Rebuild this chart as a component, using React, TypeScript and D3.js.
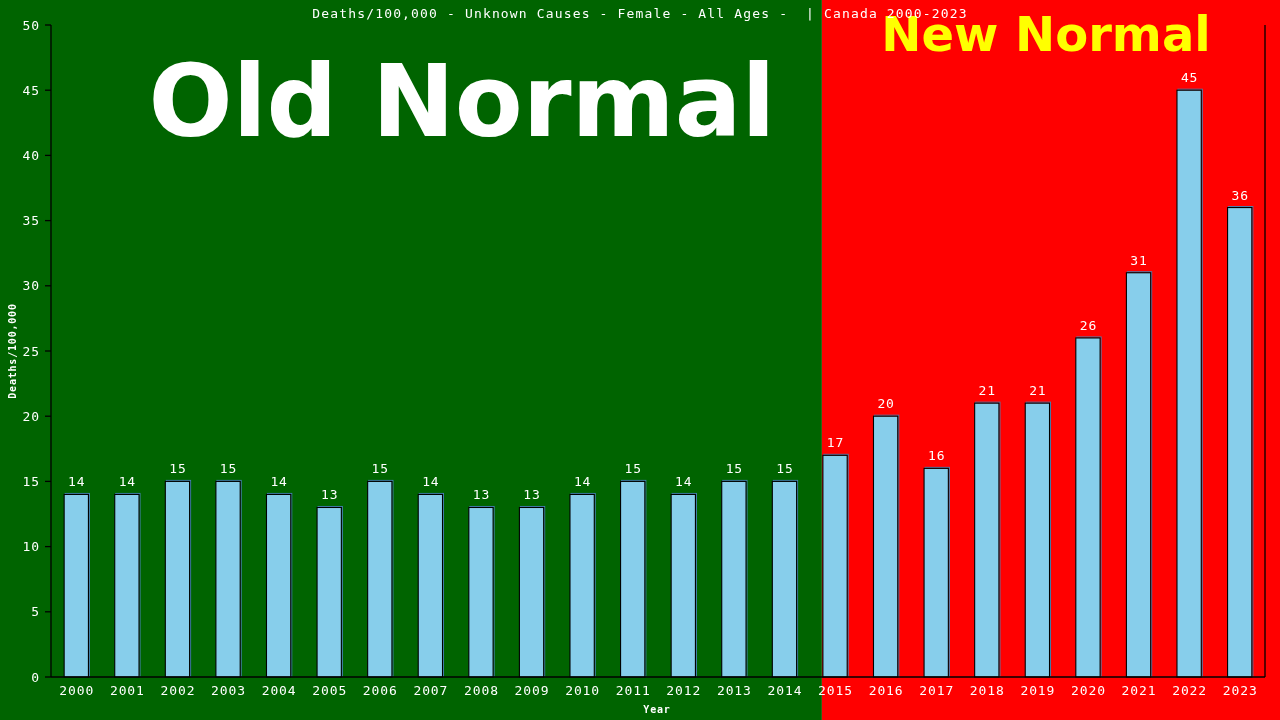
import { scaleBand, scaleLinear } from "d3";

const years = [
  "2000", "2001", "2002", "2003", "2004", "2005", "2006", "2007", "2008", "2009", "2010", "2011",
  "2012", "2013", "2014", "2015", "2016", "2017", "2018", "2019", "2020", "2021", "2022", "2023",
];
const deaths = [14, 14, 15, 15, 14, 13, 15, 14, 13, 13, 14, 15, 14, 15, 15, 17, 20, 16, 21, 21, 26, 31, 45, 36];
const yTicks = [0, 5, 10, 15, 20, 25, 30, 35, 40, 45, 50];
const newNormalFrom = "2015";

const W = 1280;
const H = 720;
const left = 51;
const right = 1265;
const top = 25;
const bottom = 677;

const mono = "'DejaVu Sans Mono', monospace";

export default function App() {
  const x = scaleBand<string>().domain(years).range([left, right]).paddingInner(0.52).paddingOuter(0.26);
  const y = scaleLinear().domain([0, 50]).range([bottom, top]);
  const bw = x.bandwidth();
  const splitX = x(newNormalFrom)! - 1;

  return (
    <div style={{ position: "fixed", left: 0, top: 0 }}>
      <svg width={W} height={H} style={{ display: "block" }}>
        {/* backgrounds */}
        <rect x={0} y={0} width={splitX} height={H} fill="#006400" />
        <rect x={splitX} y={0} width={W - splitX} height={H} fill="#ff0000" />

        <text x={462} y={136} textAnchor="middle" fill="#fff" fontFamily="'DejaVu Sans', sans-serif" fontWeight="bold" fontSize={99}>
          Old Normal
        </text>
        <text x={1046} y={51} textAnchor="middle" fill="#ffff00" fontFamily="'DejaVu Sans', sans-serif" fontWeight="bold" fontSize={48}>
          New Normal
        </text>

        {/* title */}
        <text x={640} y={18} textAnchor="middle" fill="#fff" fontFamily={mono} fontSize={13} letterSpacing={1.15} style={{ whiteSpace: "pre" }}>
          {"Deaths/100,000 - Unknown Causes - Female - All Ages -  | Canada 2000-2023"}
        </text>

        {/* bars */}
        {years.map((yr, i) => {
          const bx = x(yr)!;
          const by = y(deaths[i]);
          return (
            <g key={yr}>
              <rect x={bx + 1} y={by - 1} width={bw} height={bottom - by} fill="none" stroke="#4682b4" strokeWidth={1} />
              <rect x={bx} y={by} width={bw} height={bottom - by} fill="#87ceeb" stroke="#000" strokeWidth={1.1} />
              <text x={bx + bw / 2 + 0.5} y={by - 8} textAnchor="middle" fill="#fff" fontFamily={mono} fontSize={13} letterSpacing={0.9}>
                {deaths[i]}
              </text>
            </g>
          );
        })}

        {/* axes */}
        <line x1={left} x2={left} y1={top} y2={bottom} stroke="#000" strokeWidth={1.3} />
        <line x1={right} x2={right} y1={top} y2={bottom} stroke="#000" strokeWidth={1.3} />
        <line x1={left} x2={right} y1={bottom} y2={bottom} stroke="#000" strokeWidth={1.3} />
        {yTicks.map((t) => (
          <g key={t}>
            <line x1={left - 6} x2={left} y1={y(t)} y2={y(t)} stroke="#000" strokeWidth={1.3} />
            <text x={40} y={y(t) + 4.5} textAnchor="end" fill="#fff" fontFamily={mono} fontSize={13} letterSpacing={0.9}>
              {t}
            </text>
          </g>
        ))}
        {years.map((yr) => (
          <text key={yr} x={x(yr)! + bw / 2 + 0.5} y={695} textAnchor="middle" fill="#fff" fontFamily={mono} fontSize={13} letterSpacing={0.9}>
            {yr}
          </text>
        ))}

        <text x={657} y={713} textAnchor="middle" fill="#fff" fontFamily={mono} fontWeight="bold" fontSize={10} letterSpacing={0.8}>
          Year
        </text>
        <text transform="translate(16,351) rotate(-90)" textAnchor="middle" fill="#fff" fontFamily={mono} fontWeight="bold" fontSize={10} letterSpacing={0.8}>
          Deaths/100,000
        </text>
      </svg>
    </div>
  );
}
